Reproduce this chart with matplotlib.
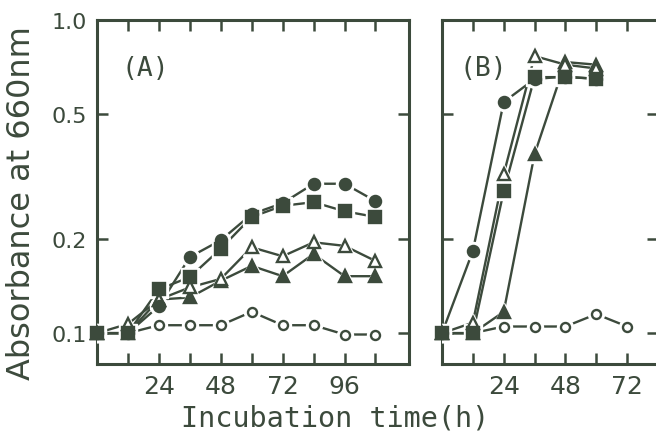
import matplotlib
matplotlib.use("Agg")
import matplotlib.pyplot as plt
from matplotlib.ticker import FixedLocator, NullLocator

INK = "#3c4a3c"
MONO = "DejaVu Sans Mono"
SANS = "DejaVu Sans"

# incubation times (h)
time_a = [0, 12, 24, 36, 48, 60, 72, 84, 96, 108]
time_b = [0, 12, 24, 36, 48, 60]
time_b_ctrl = [0, 12, 24, 36, 48, 60, 72]

# panel (A) absorbance at 660 nm
a_filled_circle = [0.10, 0.10, 0.122, 0.175, 0.198, 0.240, 0.260, 0.300, 0.300, 0.264]
a_filled_square = [0.10, 0.10, 0.138, 0.151, 0.186, 0.235, 0.255, 0.262, 0.245, 0.235]
a_open_triangle = [0.10, 0.107, 0.128, 0.140, 0.149, 0.188, 0.176, 0.195, 0.190, 0.170]
a_filled_triangle = [0.10, 0.10, 0.128, 0.130, 0.147, 0.164, 0.152, 0.179, 0.152, 0.152]
a_open_circle = [0.10, 0.10, 0.106, 0.106, 0.106, 0.117, 0.106, 0.106, 0.099, 0.099]

# panel (B) absorbance at 660 nm
b_filled_circle = [0.10, 0.183, 0.547, 0.648, 0.660, 0.648]
b_filled_square = [0.10, 0.10, 0.284, 0.657, 0.657, 0.650]
b_open_triangle = [0.10, 0.108, 0.322, 0.767, 0.720, 0.700]
b_filled_triangle = [0.10, 0.10, 0.117, 0.373, 0.734, 0.720]
b_open_circle = [0.10, 0.10, 0.105, 0.105, 0.105, 0.115, 0.105]

y_ticks = [0.1, 0.2, 0.5, 1.0]
y_tick_labels = ["0.1", "0.2", "0.5", "1.0"]
x_ticks_a = [12, 24, 36, 48, 60, 72, 84, 96, 108]
x_ticks_b = [12, 24, 36, 48, 60, 72]
x_labels = {24: "24", 48: "48", 72: "72", 96: "96"}

# marker style per series: (marker, filled, size)
styles = {
    "filled_circle": ("o", True, 8),
    "filled_square": ("s", True, 8.5),
    "open_triangle": ("^", False, 8.5),
    "filled_triangle": ("^", True, 8.5),
    "open_circle": ("o", False, 6.5),
}


def draw_series(ax, x, y, key):
    marker, filled, size = styles[key]
    ax.plot(x, y, color=INK, lw=1.7, zorder=2, solid_capstyle="butt")
    # white halo leaves the small gap around each marker
    ax.plot(x, y, ls="none", marker=marker, ms=size + 5, mfc="white",
            mec="white", zorder=3)
    ax.plot(x, y, ls="none", marker=marker, ms=size,
            mfc=INK if filled else "white", mec=INK, mew=1.7, zorder=4,
            clip_on=False)


def style_axes(ax, xlim, xticks, show_ylabels):
    ax.set_yscale("log")
    ax.set_ylim(0.0797, 1.0)
    ax.set_xlim(*xlim)
    ax.yaxis.set_major_locator(FixedLocator(y_ticks))
    ax.yaxis.set_minor_locator(NullLocator())
    ax.set_xticks(xticks)
    ax.set_xticklabels([x_labels.get(t, "") for t in xticks])
    if show_ylabels:
        ax.set_yticklabels(y_tick_labels)
    else:
        ax.set_yticklabels([])
    ax.tick_params(which="both", direction="in", top=True, right=True,
                   length=8, width=1.8, color=INK, labelcolor=INK, pad=7)
    ax.tick_params(axis="x", labelsize=18)
    ax.tick_params(axis="y", labelsize=16)
    for lab in ax.get_xticklabels() + ax.get_yticklabels():
        lab.set_fontfamily(SANS)
    for sp in ax.spines.values():
        sp.set_linewidth(2.2)
        sp.set_color(INK)


fig = plt.figure(figsize=(6.56, 4.39), dpi=100)
fig.patch.set_facecolor("white")

ax_a = fig.add_axes([97 / 656, 1 - 365 / 439, 312 / 656, 344 / 439])
ax_b = fig.add_axes([442 / 656, 1 - 365 / 439, 216 / 656, 344 / 439])

draw_series(ax_a, time_a, a_open_circle, "open_circle")
draw_series(ax_a, time_a, a_filled_triangle, "filled_triangle")
draw_series(ax_a, time_a, a_open_triangle, "open_triangle")
draw_series(ax_a, time_a, a_filled_square, "filled_square")
draw_series(ax_a, time_a, a_filled_circle, "filled_circle")

draw_series(ax_b, time_b_ctrl, b_open_circle, "open_circle")
draw_series(ax_b, time_b, b_filled_triangle, "filled_triangle")
draw_series(ax_b, time_b, b_open_triangle, "open_triangle")
draw_series(ax_b, time_b, b_filled_square, "filled_square")
draw_series(ax_b, time_b, b_filled_circle, "filled_circle")

style_axes(ax_a, (0, 121), x_ticks_a, True)
style_axes(ax_b, (0, 84), x_ticks_b, False)

ax_a.text(0.08, 0.86, "(A)", transform=ax_a.transAxes, fontsize=19,
          family=MONO, color=INK, va="center", ha="left")
ax_b.text(0.08, 0.86, "(B)", transform=ax_b.transAxes, fontsize=19,
          family=MONO, color=INK, va="center", ha="left")

fig.text(22 / 656, 1 - 203 / 439, "Absorbance at 660nm", rotation=90,
         fontsize=23, family=SANS, color=INK, ha="center", va="center")
fig.text(335 / 656, 1 - 419 / 439, "Incubation time(h)",
         fontsize=20.5, family=MONO, color=INK, ha="center", va="center")

fig.savefig("out.png", dpi=100, facecolor="white")
